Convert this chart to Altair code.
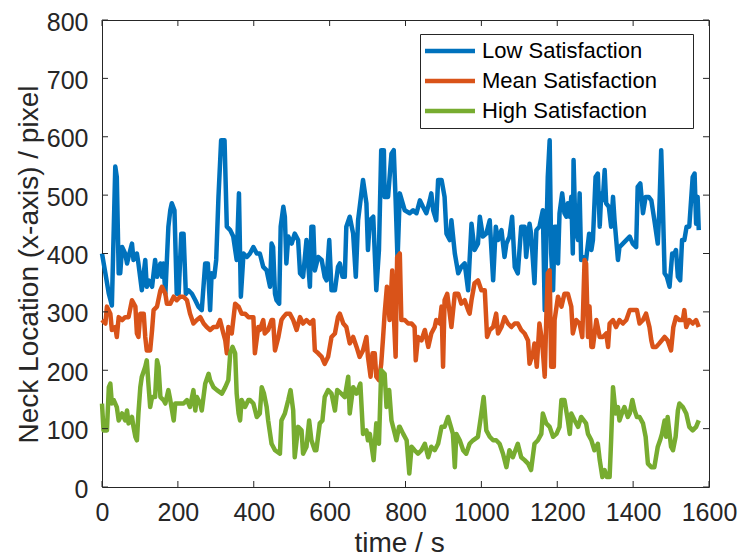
import altair as alt
import pandas as pd

SERIES = ["Low Satisfaction", "Mean Satisfaction", "High Satisfaction"]
COLORS = ["#0072BD", "#D95319", "#77AC30"]
X_TICKS = [0, 200, 400, 600, 800, 1000, 1200, 1400, 1600]
Y_TICKS = [0, 100, 200, 300, 400, 500, 600, 700, 800]

# (time / s, neck location / pixel)
LOW = [(0,400),(9,366),(18,331),(26,311),(35,549),(39,531),(44,366),(48,366),(53,411),(61,400),
       (66,383),(70,394),(79,417),(83,389),(92,400),(96,383),(105,337),(114,389),(118,343),(123,354),
       (132,343),(140,389),(145,360),(154,383),(158,360),(162,383),(167,331),(175,446),(180,474),(184,486),
       (191,474),(197,331),(202,331),(209,434),(215,434),(221,331),(228,337),(237,331),(246,320),(254,309),
       (263,303),(272,383),(279,383),(285,303),(289,366),(296,360),(301,389),(307,497),(314,594),(323,594),
       (329,446),(338,440),(346,429),(355,389),(361,503),(366,326),(373,400),(382,394),
       (390,400),(399,411),(408,400),(416,400),(425,377),(434,371),(443,343),(447,417),(451,411),(456,331),
       (460,320),(467,314),(471,446),(478,480),(482,463),(486,383),(491,429),(500,417),(508,434),(517,423),
       (522,366),(530,360),(539,423),(548,343),(552,446),(557,446),(561,371),(570,394),(579,389),(587,360),
       (592,354),(599,423),(605,337),(614,337),(622,377),(627,383),(634,360),(640,360),(644,446),(653,463),
       (662,434),(669,360),(675,457),(688,526),(697,486),(701,406),(706,457),(715,463),(723,337),(730,406),
       (736,577),(743,577),(745,497),(754,497),(763,571),(769,577),(774,491),(779,389),
       (785,503),(798,474),(811,469),(820,474),(829,469),(838,491),(846,480),(855,469),(864,491),(868,503),
       (873,474),(881,457),(886,526),(895,526),(903,497),(908,434),(917,423),(921,457),(930,400),(939,366),
       (947,377),(956,383),(965,337),(969,389),(974,451),(982,406),(991,417),(996,463),(1004,429),(1013,434),
       (1022,457),(1031,354),(1038,446),(1044,423),(1053,440),(1061,394),(1066,417),(1074,429),(1081,463),(1088,377),
       (1096,366),(1105,446),(1114,446),(1118,394),(1127,451),(1131,434),(1140,349),(1145,440),(1153,446),(1162,474),
       (1167,303),(1171,417),(1175,531),
       (1180,594),(1184,400),(1189,337),(1193,446),(1198,446),(1202,383),(1206,469),(1213,503),(1219,469),(1224,463),
       (1228,486),(1233,463),(1237,497),(1241,400),(1243,560),(1248,440),(1255,423),(1259,503),(1263,389),(1268,394),
       (1276,389),(1284,434),(1290,406),(1294,423),(1301,531),(1307,537),(1312,446),(1316,503),(1320,491),(1325,543),
       (1329,486),(1336,480),(1342,446),(1347,497),(1351,457),(1360,389),(1364,411),(1373,417),(1382,423),(1391,429),
       (1399,417),(1408,411),(1412,514),(1419,520),(1426,469),(1433,497),(1441,497),(1448,491),(1456,457),(1465,417),
       (1469,474),(1474,577),(1478,491),(1483,366),(1489,360),(1496,343),(1503,400),(1509,400),(1513,406),(1518,360),
       (1524,354),(1529,423),(1535,423),(1541,446),(1548,446),(1557,531),(1562,537),(1566,451),(1570,497),(1573,440)]

MEAN = [(0,286),(9,280),(13,309),(22,297),(26,269),(35,274),(39,257),(44,291),(53,286),(61,291),
        (70,291),(79,320),(88,309),(92,263),(96,257),(101,297),(110,297),(114,257),(118,234),(127,234),
        (132,269),(136,303),(145,309),(154,337),(158,343),(167,331),(171,314),(180,314),(189,326),(197,320),
        (206,326),(215,326),(224,320),(232,297),(241,280),(250,286),(259,291),(268,280),(276,274),(285,269),
        (294,274),(303,274),(311,286),(320,263),(325,251),(329,229),(333,274),(342,263),(351,314),(360,309),
        (368,297),(377,297),(386,291),
        (390,291),(399,291),(403,229),(412,274),(416,269),(425,286),(429,263),(438,269),(447,286),(451,286),
        (456,234),(465,257),(473,286),(478,291),(486,297),(495,297),(504,286),(513,269),(522,291),(530,280),
        (539,286),(548,280),(557,286),(561,234),(570,229),(579,223),(587,211),(596,223),(605,257),(614,263),
        (622,291),(627,297),(636,280),(644,274),(653,246),(662,257),(671,240),(679,223),(688,234),(697,257),
        (701,223),(708,189),(713,229),(719,229),(723,189),(730,183),(736,211),(741,257),(745,297),(751,343),
        (758,286),(765,371),(769,297),(774,223),(778,394),
        (785,400),(789,286),(798,286),(807,280),(816,280),(824,274),(827,217),(833,257),(842,251),(851,269),
        (860,240),(868,263),(877,274),(881,286),(890,280),(895,309),(899,206),(903,320),(910,331),(921,274),
        (930,331),(939,331),(947,314),(956,320),(965,303),(969,297),(974,320),(982,349),(991,354),(1000,337),
        (1009,337),(1015,257),(1022,269),(1031,274),(1039,297),(1044,263),(1053,274),(1061,291),(1070,280),(1079,274),
        (1088,280),(1096,280),(1105,269),(1114,263),(1123,251),(1127,211),(1136,229),(1140,246),(1146,206),(1153,280),
        (1160,251),(1167,189),(1171,286),(1175,366),
        (1180,371),(1184,206),(1191,206),(1193,286),(1202,326),(1211,309),(1219,331),(1228,331),(1237,309),(1241,263),
        (1250,286),(1259,280),(1266,257),(1272,389),(1276,383),(1281,257),(1285,309),(1290,240),(1294,240),(1303,286),
        (1312,257),(1320,257),(1329,263),(1334,240),(1338,280),(1347,286),(1355,274),(1364,286),(1373,280),(1382,286),
        (1391,303),(1399,303),(1410,303),(1417,280),(1426,286),(1434,297),(1443,274),(1448,251),(1452,240),(1461,240),
        (1469,246),(1483,257),(1491,251),(1500,234),(1506,274),(1513,291),(1522,286),(1531,286),(1535,303),(1540,274),
        (1548,286),(1557,280),(1566,286),(1573,274)]

HIGH = [(0,143),(4,97),(13,97),(18,171),(22,177),(26,143),(31,149),(39,137),(44,114),(53,126),
        (61,114),(66,131),(70,109),(79,120),(83,103),(88,86),(92,80),(96,126),(101,171),(105,189),
        (114,206),(118,217),(123,171),(127,137),(132,154),(140,154),(145,217),(149,206),(154,154),(162,149),
        (167,143),(175,166),(180,149),(189,114),(193,143),(206,143),(215,143),(224,149),(232,137),(241,166),
        (246,131),(250,154),(259,143),(263,131),(272,177),(281,194),(285,183),(294,171),(303,166),(316,160),
        (325,171),(333,183),(338,229),(344,240),(351,229),(355,160),(360,126),(364,114),(368,149),(377,137),
        (386,149),
        (390,149),(399,143),(408,120),(416,126),(421,171),(427,160),(434,137),(438,114),(447,74),(456,63),
        (469,57),(473,114),(482,126),(491,149),(497,166),(504,131),(508,51),(517,103),(526,97),(530,57),
        (539,69),(546,114),(552,80),(561,63),(565,63),(574,109),(581,114),(587,154),(596,166),(605,160),
        (614,131),(620,166),(631,160),(640,154),(649,189),(653,126),(662,171),(671,160),(681,177),(688,91),
        (697,97),(701,80),(706,91),(716,46),(723,109),(730,74),(736,200),(745,194),(750,137),(757,166),
        (763,114),(772,91),(776,80),(783,103),
        (785,103),(794,91),(803,80),(810,23),(816,69),(824,63),(833,57),(842,63),(851,74),(860,51),
        (868,69),(877,63),(886,74),(895,103),(903,103),(912,120),(917,109),(925,91),(930,34),(934,91),
        (943,80),(952,63),(960,57),(969,74),(978,80),(991,86),(1000,126),(1006,154),(1013,97),(1022,86),
        (1031,80),(1039,80),(1048,74),(1057,57),(1066,34),(1074,63),(1083,51),(1096,74),(1105,51),(1114,46),
        (1123,40),(1131,29),(1140,74),(1149,80),(1158,91),(1162,126),(1171,109),
        (1180,103),(1189,86),(1198,91),(1206,103),(1211,149),(1219,149),(1228,114),(1233,91),(1237,126),(1246,114),
        (1255,103),(1263,120),(1276,109),(1281,91),(1290,80),(1298,63),(1307,74),(1312,46),(1319,17),(1325,29),
        (1331,17),(1338,17),(1342,80),(1347,171),(1354,126),(1360,137),(1364,114),(1373,131),(1377,137),(1386,120),
        (1391,126),(1398,149),(1404,131),(1410,120),(1417,120),(1426,109),(1433,86),(1439,40),(1448,34),(1456,34),
        (1465,69),(1471,80),(1476,91),(1483,114),(1487,86),(1491,120),(1500,69),(1505,63),(1512,86),(1518,131),
        (1522,143),(1531,137),(1540,126),(1548,103),(1557,97),(1566,103),(1573,114)]

rows = []
for name, pts in zip(SERIES, [LOW, MEAN, HIGH]):
    for i, (t, v) in enumerate(pts):
        rows.append({"series": name, "time": t, "value": v, "idx": i})
df = pd.DataFrame(rows)

W, H = 607, 467
TICK = 6
AX = "#262626"
FONT = "Liberation Sans"

x_scale = alt.Scale(domain=[0, 1600], nice=False, zero=False)
y_scale = alt.Scale(domain=[0, 800], nice=False, zero=False)

x_axis = alt.Axis(values=X_TICKS, format="d", title="time / s", labelFlush=False,
                  labelOverlap=False, labelPadding=13, titleX=297, titleY=64,
                  titleAlign="center", titleBaseline="alphabetic")
y_axis = alt.Axis(values=Y_TICKS, format="d", title="Neck Location (x-axis) / pixel",
                  labelPadding=14, labelOffset=2, labelFlush=False, labelOverlap=False,
                  titleX=-65, titleY=244, titleAngle=-90, titleAlign="center",
                  titleBaseline="alphabetic")

lines = alt.Chart(df).mark_line(strokeWidth=4.5, strokeJoin="round", strokeCap="butt").encode(
    x=alt.X("time:Q", scale=x_scale, axis=x_axis),
    y=alt.Y("value:Q", scale=y_scale, axis=y_axis),
    color=alt.Color("series:N", scale=alt.Scale(domain=SERIES, range=COLORS),
                    legend=alt.Legend(title=None, orient="none", legendX=318, legendY=14,
                                      direction="vertical", symbolType="M-5,0H5M45.5,0",
                                      symbolSize=100, symbolStrokeWidth=4.5, symbolOffset=13,
                                      labelOffset=21, labelFont=FONT, labelFontSize=22,
                                      labelColor="#000000", labelLimit=400, strokeColor=AX,
                                      fillColor="white", padding=6, rowPadding=8)),
    order=alt.Order("idx:Q"),
)

xt = pd.DataFrame({"time": X_TICKS})
yt = pd.DataFrame({"value": Y_TICKS})

tb = alt.Chart(xt).mark_rule(color=AX, strokeWidth=1).encode(
    x=alt.X("time:Q", scale=x_scale, axis=x_axis), y=alt.value(H), y2=alt.value(H - TICK))
tt = alt.Chart(xt).mark_rule(color=AX, strokeWidth=1).encode(
    x=alt.X("time:Q", scale=x_scale, axis=x_axis), y=alt.value(0), y2=alt.value(TICK))
tl = alt.Chart(yt).mark_rule(color=AX, strokeWidth=1).encode(
    y=alt.Y("value:Q", scale=y_scale, axis=y_axis), x=alt.value(0), x2=alt.value(TICK))
tr = alt.Chart(yt).mark_rule(color=AX, strokeWidth=1).encode(
    y=alt.Y("value:Q", scale=y_scale, axis=y_axis), x=alt.value(W), x2=alt.value(W - TICK))

chart = alt.layer(lines, tb, tt, tl, tr).properties(
    width=W, height=H,
    autosize=alt.AutoSizeParams(type="none"),
    padding={"left": 102, "top": 20, "right": 29, "bottom": 71},
    background="white",
).configure_view(
    stroke=AX, strokeWidth=1
).configure_axis(
    grid=False, domain=False, ticks=False, tickSize=0,
    labelFont=FONT, titleFont=FONT, labelFontSize=25, titleFontSize=28,
    labelColor=AX, titleColor=AX, titleFontWeight="normal",
)

chart.save("out.html", embed_options={"renderer": "svg", "actions": False})
